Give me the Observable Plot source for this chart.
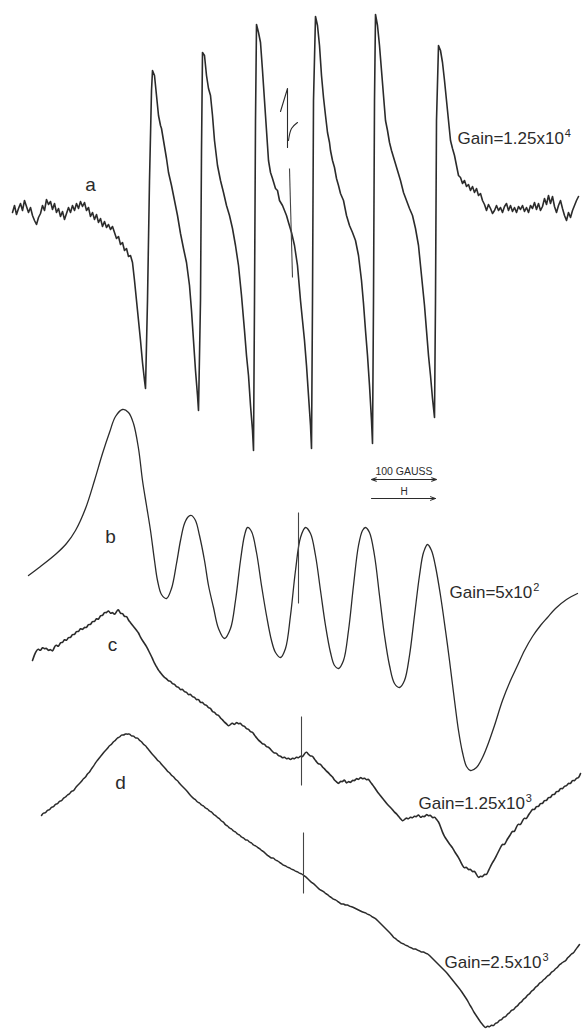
<!DOCTYPE html>
<html>
<head>
<meta charset="utf-8">
<script src="https://cdn.jsdelivr.net/npm/d3@7"></script>
<script src="https://cdn.jsdelivr.net/npm/@observablehq/plot@0.6"></script>
<style>
  html, body { margin: 0; padding: 0; background: #fff; }
  #chart svg { display: block; }
</style>
</head>
<body>
<div id="chart"></div>
<script>
// Values: [field position, pen deflection (downward)]
const traceA = [[12,212],[14,205],[16,214],[18,208],[20,203],[22,210],[24,200],[26,206],[28,212],[30,207],[32,215],[34,220],[36,224],[38,217],[40,213],[42,205],[44,210],[46,199],[48,204],[50,201],[52,209],[54,203],[56,212],[58,208],[60,216],[62,211],[64,219],[66,213],[68,207],[70,212],[72,205],[74,210],[76,203],[78,208],[80,201],[82,206],[84,202],[86,210],[88,207],[90,216],[92,212],[94,219],[96,214],[98,222],[100,218],[102,226],[104,221],[106,227],[108,224],[110,229],[112,226],[114,232],[116,238],[118,236],[120,244],[122,242],[124,250],[126,248],[128,256],[130,255],[132,262],
[134,280],[136,300],[138,320],[140,340],[142,362],[144,380],[145,388],
[147,300],[149,180],[151,90],[152,70],
[154,75],[156,95],[158,115],[160,125],[161,128],[163,140],[166,158],[168,172],[171,185],[174,200],[177,215],[180,233],[183,248],[186,262],[189,285],[191,310],[193,340],[195,370],[197,395],[198,410],
[200,300],[201,150],[202,52],
[204,55],[206,75],[208,88],[210,95],[212,115],[214,140],[217,165],[220,180],[223,192],[226,205],[229,215],[232,228],[235,245],[238,265],[241,295],[244,330],[246,355],[248,375],[250,405],[252,430],[253,450],
[254,300],[255,120],[256,24],
[258,32],[260,42],[262,70],[264,100],[266,130],[268,160],[270,172],[272,178],[275,188],[277,190],[279,200],[282,205],[284,210],[286,215],[288,222],[291,232],[294,245],[297,265],[300,300],[302,320],[304,340],[306,365],[308,395],[310,425],[311,448],
[312,300],[313,100],[315,16],
[317,25],[319,45],[321,75],[323,97],[325,115],[327,132],[329,142],[330,150],[332,160],[334,167],[336,178],[338,185],[340,193],[343,200],[346,215],[349,225],[352,232],[355,240],[358,255],[361,280],[363,303],[365,330],[367,355],[369,385],[371,420],[372,443],
[373,300],[374,100],[375,14],
[377,25],[379,45],[381,70],[383,95],[385,120],[387,130],[389,142],[391,150],[394,160],[397,170],[400,180],[403,192],[406,200],[409,208],[412,215],[415,228],[418,245],[420,265],[422,285],[424,305],[426,330],[428,355],[430,375],[432,398],[434,417],
[435,300],[436,120],[438,45],
[440,50],[442,62],[444,80],[446,100],[448,120],[450,140],[452,148],[454,155],[456,165],[458,175],[460,177],[462,183],[464,180],[466,186],[468,184],[470,190],[472,186],[474,192],[476,188],[478,195],[480,193],[482,200],[484,204],[486,210],[488,204],[490,208],[492,213],[494,210],[496,205],[498,210],[500,207],[502,212],[504,206],[506,203],[508,210],[510,205],[512,211],[514,207],[516,212],[518,206],[520,209],[522,205],[524,211],[526,207],[528,212],[530,205],[532,208],[534,202],[536,209],[538,203],[540,210],[542,206],[544,198],[546,204],[548,195],[550,203],[552,196],[554,206],[556,212],[558,205],[560,200],[562,208],[564,215],[566,220],[568,212],[570,217],[572,210],[574,205],[576,200],[578,196]];

const traceB = [[28,575],[40,566],[56,553],[66,543],[75,530],[85,508],[94,480],[102,453],[109,432],[115,416],[122,409],[128,412],[133,423],[138,448],[142,480],[146,505],[150,530],[154,560],[157,580],[161,594],[166,598],[171,588],[176,563],[180,540],[184,523],[188,516],[191,515],[195,520],[199,535],[204,560],[208,585],[213,607],[218,628],[224,638],[230,628],[235,600],[240,560],[244,535],[247,527],[251,531],[256,552],[261,585],[266,615],[271,640],[275,652],[280,657],[285,648],[290,615],[295,570],[300,537],[305,527],[310,533],[315,555],[320,590],[325,625],[330,652],[334,665],[338,668],[343,660],[348,630],[353,585],[358,545],[362,530],[365,527],[369,532],[374,555],[379,595],[384,635],[389,665],[394,683],[399,687],[404,680],[409,655],[414,615],[419,575],[423,552],[427,544],[431,550],[435,566],[440,595],[445,630],[449,660],[454,700],[458,730],[462,752],[466,766],[470,770],[476,767],[482,757],[487,745],[494,725],[502,700],[510,680],[517,665],[524,650],[532,636],[540,625],[547,617],[555,608],[566,599],[577,593]];

const traceC = [[32,660],[34,654],[36,650],[38,648],[40,651],[42,646],[44,649],[46,647],[48,651],[50,648],[52,652],[54,646],[56,644],[58,647],[60,641],[62,643],[64,638],[66,641],[68,636],[70,638],[72,633],[74,635],[76,630],[78,632],[80,627],[82,630],[84,626],[86,628],[88,623],[90,625],[92,620],[94,622],[96,617],[98,620],[100,614],[102,616],[104,611],[106,613],[108,609],[110,614],[112,611],[114,615],[116,611],[118,608],[120,614],[122,612],[124,617],[126,615],[128,620],[130,622],[132,625],[134,627],[136,630],[138,632],[140,637],[142,640],[144,643],[146,646],[148,650],[150,654],[152,658],[154,663],[156,666],[158,670],[160,672],[162,675],[164,677],[166,678],[168,681],[170,680],[172,684],[174,683],[176,687],[178,686],[180,690],[182,688],[184,692],[186,691],[188,695],[190,693],[192,697],[194,696],[196,700],[198,698],[200,703],[202,701],[204,705],[206,704],[208,708],[210,707],[212,712],[214,711],[216,715],[218,714],[220,718],[222,719],[224,722],[226,723],[228,726],[230,724],[232,722],[234,725],[236,721],[238,724],[240,722],[242,726],[244,725],[246,729],[248,728],[250,732],[252,731],[254,735],[256,737],[258,740],[260,741],[262,744],[264,743],[266,747],[268,746],[270,749],[272,751],[274,753],[276,752],[278,756],[280,755],[282,758],[284,756],[286,759],[288,757],[290,760],[292,757],[294,759],[296,756],[298,758],[300,755],[302,757],[304,753],[306,751],[308,754],[310,756],[312,755],[314,759],[316,761],[318,764],[320,763],[322,767],[324,768],[326,771],[328,772],[330,775],[332,776],[334,780],[336,781],[338,784],[340,780],[342,782],[344,778],[346,784],[348,780],[350,783],[352,779],[354,781],[356,777],[358,780],[360,776],[362,779],[364,777],[366,780],[368,778],[370,782],[372,784],[374,787],[376,790],[378,793],[380,795],[382,798],[384,800],[386,803],[388,805],[390,807],[392,809],[394,812],[396,813],[398,816],[400,818],[402,821],[404,819],[406,817],[408,819],[410,816],[412,818],[414,815],[416,817],[418,813],[420,818],[422,815],[424,817],[426,813],[428,816],[430,814],[432,818],[434,816],[436,819],[438,821],[440,826],[442,832],[444,836],[446,839],[448,842],[450,845],[452,847],[454,851],[456,854],[458,857],[460,861],[462,865],[464,868],[466,866],[468,870],[470,868],[472,872],[474,870],[476,874],[478,878],[480,875],[482,877],[484,873],[486,875],[488,870],[490,866],[492,862],[494,859],[496,855],[498,851],[500,847],[502,843],[504,845],[506,840],[508,837],[510,834],[512,830],[514,832],[516,826],[518,823],[520,825],[522,820],[524,817],[526,819],[528,814],[530,812],[532,808],[534,810],[536,805],[538,807],[540,802],[542,804],[544,799],[546,801],[548,796],[550,798],[552,793],[554,795],[556,790],[558,792],[560,787],[562,789],[564,785],[566,786],[568,782],[570,784],[572,779],[574,781],[576,777],[578,778],[580,773]];

const traceD = [[41,815],[43,812],[45,813],[47,809],[49,810],[51,806],[53,807],[55,803],[57,804],[59,800],[61,801],[63,797],[65,797],[67,794],[69,794],[71,790],[73,791],[75,787],[77,785],[79,783],[81,781],[83,778],[85,777],[87,773],[89,772],[91,768],[93,766],[95,762],[97,760],[99,757],[101,755],[103,752],[105,750],[107,748],[109,745],[111,744],[113,741],[115,740],[117,737],[119,737],[121,734],[123,735],[125,733],[127,734],[129,733],[131,736],[133,735],[135,738],[137,737],[139,740],[141,741],[143,744],[145,745],[147,748],[149,750],[151,753],[153,755],[155,757],[157,760],[159,761],[161,764],[163,766],[165,768],[167,771],[169,772],[171,775],[173,776],[175,779],[177,780],[179,783],[181,785],[183,787],[185,789],[187,791],[189,794],[191,796],[193,798],[195,799],[197,802],[199,802],[201,805],[203,805],[205,808],[207,808],[209,811],[211,811],[213,814],[215,815],[217,817],[219,818],[221,821],[223,821],[225,825],[227,825],[229,828],[231,828],[233,831],[235,831],[237,834],[239,834],[241,837],[243,837],[245,840],[247,839],[249,842],[251,842],[253,845],[255,845],[257,847],[259,848],[261,850],[263,851],[265,853],[267,855],[269,856],[271,858],[273,857],[275,860],[277,860],[279,862],[281,863],[283,865],[285,865],[287,867],[289,867],[291,869],[293,869],[295,871],[297,871],[299,873],[301,873],[303,875],[305,876],[307,878],[309,880],[311,882],[313,883],[315,885],[317,887],[319,889],[321,890],[323,891],[325,893],[327,894],[329,896],[331,897],[333,899],[335,899],[337,901],[339,902],[341,904],[343,903],[345,905],[347,904],[349,906],[351,906],[353,907],[355,908],[357,909],[359,910],[361,911],[363,912],[365,912],[367,914],[369,914],[371,916],[373,917],[375,918],[377,920],[379,922],[381,924],[383,926],[385,928],[387,930],[389,932],[391,934],[393,937],[395,938],[397,940],[399,941],[401,943],[403,943],[405,945],[407,945],[409,947],[411,947],[413,949],[415,948],[417,950],[419,950],[421,952],[423,951],[425,953],[427,953],[429,955],[431,957],[433,959],[435,961],[437,963],[439,965],[441,967],[443,969],[445,971],[447,973],[449,976],[451,978],[453,981],[455,983],[457,986],[459,988],[461,991],[463,994],[465,997],[467,1000],[469,1004],[471,1007],[473,1011],[475,1014],[477,1017],[479,1020],[481,1023],[483,1025],[485,1028],[487,1025],[489,1027],[491,1024],[493,1026],[495,1022],[497,1023],[499,1019],[501,1020],[503,1016],[505,1017],[507,1013],[509,1013],[511,1009],[513,1010],[515,1006],[517,1006],[519,1002],[521,1002],[523,998],[525,998],[527,994],[529,994],[531,990],[533,990],[535,986],[537,986],[539,982],[541,982],[543,979],[545,978],[547,975],[549,975],[551,971],[553,971],[555,968],[557,967],[559,964],[561,963],[563,961],[565,961],[567,957],[569,956],[571,953],[573,953],[575,949],[577,947],[579,944]];

// Field-marker strokes drawn across the traces
const markerGlyph = [[280,111],[287,88],[287,147]];
const markerCurl = [[288,140],[291,128],[297,122]];
const fieldMarkers = [
  {x1: 289, y1: 168, x2: 292, y2: 277},
  {x1: 298, y1: 512, x2: 298, y2: 603},
  {x1: 301, y1: 716, x2: 301, y2: 785},
  {x1: 303, y1: 832, x2: 303, y2: 893}
];

// Trace letters
const traceLetters = [
  {label: "a", x: 90, y: 190},
  {label: "b", x: 110, y: 542},
  {label: "c", x: 112, y: 650},
  {label: "d", x: 120, y: 788}
];

// Gain annotations (mantissa text, exponent)
const gainLabels = [
  {text: "Gain=1.25x10", exp: "4", x: 457, y: 143},
  {text: "Gain=5x10", exp: "2", x: 449, y: 597},
  {text: "Gain=1.25x10", exp: "3", x: 418, y: 808},
  {text: "Gain=2.5x10", exp: "3", x: 444, y: 967}
];

// Scale bar: 100 gauss, and field direction H
const scaleBar = {x1: 371, x2: 436, y: 479, label: "100 GAUSS", labelY: 474};
const fieldArrow = {x1: 371, x2: 435, y: 498, label: "H", labelY: 494};

const INK = "#2b2b2b";
const FONT = "Liberation Sans, Arial, sans-serif";

const lineOpts = (w) => ({x: d => d[0], y: d => d[1], stroke: INK, strokeWidth: w, strokeLinejoin: "round", strokeLinecap: "round"});

const mid = (scaleBar.x1 + scaleBar.x2) / 2;

const plot = Plot.plot({
  width: 583,
  height: 1030,
  margin: 0,
  x: {domain: [0, 583], axis: null},
  y: {domain: [0, 1030], reverse: true, axis: null},
  style: {background: "#fff", overflow: "visible"},
  marks: [
    Plot.line(traceA, lineOpts(1.6)),
    Plot.line(traceB, {...lineOpts(1.3), curve: "catmull-rom"}),
    Plot.line(traceC, {...lineOpts(1.6), curve: "basis"}),
    Plot.line(traceD, {...lineOpts(1.5), curve: "basis"}),
    Plot.line(markerGlyph, lineOpts(1.1)),
    Plot.line(markerCurl, {...lineOpts(1.1), curve: "catmull-rom"}),
    Plot.link(fieldMarkers, {x1: "x1", y1: "y1", x2: "x2", y2: "y2", stroke: "#444", strokeWidth: 1.1}),
    Plot.text(traceLetters, {x: "x", y: "y", text: "label", textAnchor: "middle", lineAnchor: "bottom", fontSize: 19, fill: INK, fontFamily: FONT}),
    Plot.text(gainLabels, {x: "x", y: "y", text: "text", textAnchor: "start", lineAnchor: "bottom", fontSize: 17, fill: INK, fontFamily: FONT}),
    Plot.arrow([scaleBar], {x1: () => mid, x2: "x1", y1: "y", y2: "y", stroke: INK, strokeWidth: 1.1, headLength: 7, headAngle: 40}),
    Plot.arrow([scaleBar], {x1: () => mid, x2: "x2", y1: "y", y2: "y", stroke: INK, strokeWidth: 1.1, headLength: 7, headAngle: 40}),
    Plot.arrow([fieldArrow], {x1: "x1", x2: "x2", y1: "y", y2: "y", stroke: INK, strokeWidth: 1, headLength: 8, headAngle: 40}),
    Plot.text([scaleBar], {x: () => mid, y: "labelY", text: "label", textAnchor: "middle", lineAnchor: "bottom", fontSize: 10.5, fill: INK, fontFamily: FONT}),
    Plot.text([fieldArrow], {x: () => mid, y: "labelY", text: "label", textAnchor: "middle", lineAnchor: "bottom", fontSize: 10, fill: INK, fontFamily: FONT})
  ]
});

// add exponents as superscript tspans on the gain labels (in data order)
const gainNodes = d3.select(plot).selectAll("text").filter(function () {
  return gainLabels.some(g => g.text === this.textContent);
}).nodes();
gainNodes.forEach((n, i) => {
  const g = gainLabels[i];
  if (!g) return;
  d3.select(n).append("tspan").attr("dy", "-0.55em").attr("font-size", 11).attr("dx", 1).text(g.exp);
});

document.getElementById("chart").appendChild(plot);
</script>
</body>
</html>
